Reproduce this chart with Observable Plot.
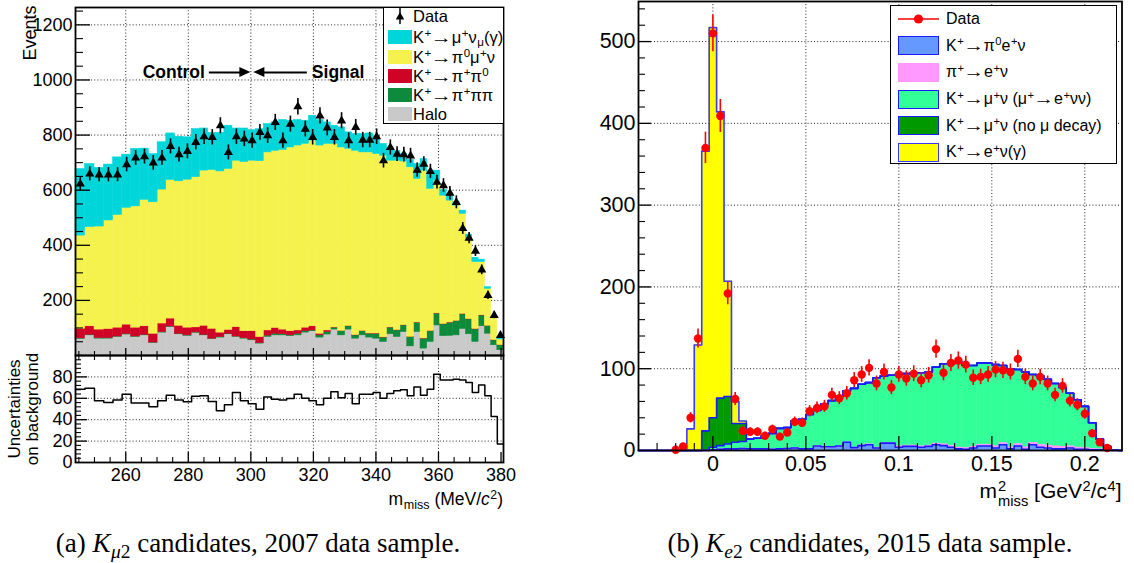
<!DOCTYPE html>
<html>
<head>
<meta charset="utf-8">
<script src="https://cdn.jsdelivr.net/npm/d3@7"></script>
<script src="https://cdn.jsdelivr.net/npm/@observablehq/plot@0.6"></script>
<style>
  html,body{margin:0;padding:0;background:#fff;}
  #wrap{position:relative;width:1134px;height:563px;overflow:hidden;background:#fff;font-family:"Liberation Sans",Arial,Helvetica,sans-serif;color:#000;}
  .abs{position:absolute;white-space:nowrap;}
  .sup{font-size:0.7em;position:relative;top:-0.48em;margin-left:0.5px;}
  .sub{font-size:0.7em;position:relative;top:0.3em;margin-left:0.5px;}
  .ar{display:inline-block;transform:scaleX(1.3);margin:0 2px;}
  .leg{position:absolute;background:#fff;border:1.5px solid #000;box-sizing:border-box;}
  .entry{position:absolute;white-space:nowrap;}
  .sw{position:absolute;box-sizing:border-box;}
  .cap{position:absolute;font-family:"Liberation Serif","Times New Roman",serif;font-size:27px;line-height:27px;text-align:center;white-space:nowrap;}
</style>
</head>
<body>
<div id="wrap"></div>
<script>
// ================= (a) K_mu2 candidates, 2007 data sample =================
// bin edges in m_miss (MeV/c^2) — bins are uniform in m_miss^2
const kmu2BinEdges = [243.93,246.98,250.00,252.98,255.93,258.84,261.73,264.58,267.40,270.19,272.95,275.68,278.39,281.07,283.73,286.36,288.97,291.55,294.11,296.65,299.17,301.66,304.14,306.59,309.03,311.45,313.85,316.23,318.59,320.94,323.26,325.58,327.87,330.15,332.42,334.66,336.90,339.12,341.32,343.51,345.69,347.85,350.00,352.14,354.26,356.37,358.47,360.56,362.63,364.69,366.74,368.78,370.81,372.83,374.83,376.83,378.81,380.79];
const kmu2Data = [623,659,656,656,656,693,717,722,699,717,759,729,741,774,794,792,834,737,794,786,780,810,798,846,780,840,903,822,792,870,826,792,852,780,828,782,782,794,707,755,731,729,725,673,695,668,629,617,589,556,461,426,379,311,218,146,73];
const kmu2Halo = [60,73,61,61,67,76,67,73,45,83,103,77,71,82,73,59,65,77,67,61,55,43,67,73,73,70,73,83,88,65,76,94,73,94,61,73,65,61,49,77,67,85,33,85,25,49,109,70,71,73,96,77,49,106,79,37,19];
const kmu2PiPiPi = [2,2,2,2,2,2,2,2,2,2,2,2,2,2,2,2,2,2,2,2,3,2,5,6,4,3,6,5,3,8,9,7,15,12,12,15,14,18,16,24,24,24,34,34,36,39,43,43,48,52,53,54,46,39,28,18,18];
const kmu2PiPi0 = [35,31,31,33,32,34,32,31,32,31,29,29,28,18,33,36,16,14,34,25,30,22,19,21,17,15,12,13,15,6,6,1,1,1,1,1,1,1,1,1,1,1,1,1,1,1,1,1,1,1,2,1,1,1,1,0.5,0.5];
const kmu2Pi0MuNu = [338,360,374,394,409,424,440,459,477,486,503,524,537,545,563,576,585,584,604,614,619,638,646,643,652,667,671,667,674,683,677,666,666,643,669,648,657,651,659,605,615,594,615,521,609,516,482,466,442,418,363,292,243,193,134,84.5,20.5];
const kmu2MuNu = [242,229,213,203,209,193,209,186,175,172,169,162,154,175,153,135,140,157,117,122,111,117,103,103,109,97,93,84,90,93,78,66,73,60,61,67,69,61,43,48,36,27,27,54,42,66,36,21,18,12,12,15,16,9,6,0,3];
const kmu2Uncertainty = [68.5,69.5,57.6,56,58.3,63.8,55.5,55.5,52,57.6,62.9,58.3,56.7,62,62.3,57,48.3,53.9,65.4,57.6,55,49.8,61.3,59.2,58.3,59.7,63.8,60,57.6,53.9,60,66.2,60.6,64.4,55,63.8,63.8,65.4,60,64.4,67,68,62.3,70.6,62.9,68.5,82.5,77.2,77,77.9,77,74.7,65.4,72.5,62.3,43,17.2];
const kmu2YTicks = [200,400,600,800,1000,1200];
const kmu2UncYTicks = [0,20,40,60,80];
const kmu2XTicks = [260,280,300,320,340,360,380];
const kmu2Boundary = 300;
const kmu2Keys = ["halo","pipipi","pipi0","pi0munu","munu"];
const kmu2Colors = ["#c9c9c9","#0d8a3c","#cf0325","#f5f24e","#00d6da"];
const AR = "<span class='ar'>→</span>";
const kmu2LegendLabels = ["Data",`K<span class='sup'>+</span>${AR}μ<span class='sup'>+</span>ν<span class='sub'>μ</span>(γ)`,`K<span class='sup'>+</span>${AR}π<span class='sup'>0</span>μ<span class='sup'>+</span>ν`,`K<span class='sup'>+</span>${AR}π<span class='sup'>+</span>π<span class='sup'>0</span>`,`K<span class='sup'>+</span>${AR}π<span class='sup'>+</span>ππ`,"Halo"];
const kmu2LegendColors = [null,"#00d6da","#f5f24e","#cf0325","#0d8a3c","#c9c9c9"];

// ================= (b) K_e2 candidates, 2015 data sample =================
const ke2BinCenters = [-0.020,-0.016,-0.012,-0.008,-0.004,0.000,0.004,0.008,0.012,0.016,0.020,0.024,0.028,0.032,0.036,0.040,0.044,0.048,0.052,0.056,0.060,0.064,0.068,0.072,0.076,0.080,0.084,0.088,0.092,0.096,0.100,0.104,0.108,0.112,0.116,0.120,0.124,0.128,0.132,0.136,0.140,0.144,0.148,0.152,0.156,0.160,0.164,0.168,0.172,0.176,0.180,0.184,0.188,0.192,0.196,0.200,0.204,0.208,0.212,0.216];
const ke2BinHalfWidth = 0.002;
const ke2Data = [1,5,40,137,370,510,409,192,63,24,23,23,18,26,17,22,35,34,48,52,54,68,64,70,86,93,101,82,96,77,93,88,94,86,92,124,95,107,110,105,89,90,93,99,98,96,112,90,82,90,82,68,79,61,56,45,21,10,3,null];
const ke2Pi0ENu = [0,0,0,0,0,1,1.5,2,2,2.5,2,2,2,1.5,2,2.5,3,2,2,5.5,4.5,4.5,5.5,10,3.5,6,7,3,9,9,4,5,5,4,5,7,6,4,2,1.5,3,5.5,5.5,3,7,2,5.5,1.5,7,4,3,2,2,3,1.5,1.5,1,1,0.5,0];
const ke2PiENu = [0,0,0,0,0,0,0,0,0,0,0,0,0,0,0,0,0,0,0,0,0,0,0,0,0,0.5,0.5,0.5,0.5,0.5,1,1,1,1,1,1.5,1.5,1.5,1.5,1.5,1.5,1.5,1.5,2,2,2,2.5,2.5,2.5,3,3,3,2.5,2,2,1.5,1,0.5,0,0];
const ke2MuNuMuDecay = [0,0,0,0,0.5,3,4.5,6,8,8.5,12,13,16,19.5,25,25.5,33,36,42,43.5,52.5,56.5,60.5,63,72.5,74.5,75.5,85.5,81.5,82.5,88,88,89,90,90,93.5,98.5,100.5,104.5,101,99.5,100,100,100,95,96,91,92,83.5,84,81,77,72.5,65,58.5,51,32,12.5,4.5,1];
const ke2MuNuNoDecay = [0,0,0,0,23.5,36,58,58,23,22,0,0,0,0,0,0,0,0,0,0,0,0,0,0,0,0,0,0,0,0,0,0,0,0,0,0,0,0,0,0,0,0,0,0,0,0,0,0,0,0,0,0,0,0,0,0,0,0,0,0];
const ke2ENu = [0,0,26.5,129,342,477,350,141,27,3,0,0,0,0,0,0,0,0,0,0,0,0,0,0,0,0,0,0,0,0,0,0,0,0,0,0,0,0,0,0,0,0,0,0,0,0,0,0,0,0,0,0,0,0,0,0,0,0,0,0];
const ke2YTicks = [0,100,200,300,400,500];
const ke2XTicks = [0,0.05,0.1,0.15,0.2];
const ke2XTickLabels = ["0","0.05","0.1","0.15","0.2"];
const ke2Keys = ["pi0enu","pienu","munudecay","munu","enu"];
const ke2Colors = ["#6699ff","#ff99ff","#33ff99","#009900","#ffff00"];
const ke2OutlineColors = ["#1a1aff","#ff99ff","#1a1aff","#1a1aff","#3a3aff"];
const ke2LegendLabels = ["Data",`K<span class='sup'>+</span>${AR}π<span class='sup'>0</span>e<span class='sup'>+</span>ν`,`π<span class='sup'>+</span>${AR}e<span class='sup'>+</span>ν`,`K<span class='sup'>+</span>${AR}μ<span class='sup'>+</span>ν (μ<span class='sup'>+</span>${AR}e<span class='sup'>+</span>νν)`,`K<span class='sup'>+</span>${AR}μ<span class='sup'>+</span>ν (no μ decay)`,`K<span class='sup'>+</span>${AR}e<span class='sup'>+</span>ν(γ)`];
const ke2LegendColors = [null,"#6699ff","#ff99ff","#33ff99","#009900","#ffff00"];

// ================= helpers =================
const FONT = '"Liberation Sans", Arial, Helvetica, sans-serif';
const wrap = document.getElementById("wrap");
function place(node, left, top) { node.style.position = "absolute"; node.style.left = left + "px"; node.style.top = top + "px"; wrap.appendChild(node); }
function stack(lo, hi, series) {
  const n = lo.length, base = new Array(n).fill(0), rects = [], levels = [];
  for (const s of series) {
    const top = [];
    for (let i = 0; i < n; i++) {
      const v = s.values[i] || 0;
      if (v > 0) rects.push({x1: lo[i], x2: hi[i], y1: base[i], y2: base[i] + v, key: s.key});
      base[i] += v; top.push(base[i]);
    }
    levels.push(top);
  }
  return {rects, levels};
}
function steps(lo, hi, vals, x0, x1) {
  const pts = [];
  if (x0 !== undefined) pts.push({x: x0, y: 0}, {x: lo[0], y: 0});
  for (let i = 0; i < lo.length; i++) pts.push({x: lo[i], y: vals[i]}, {x: hi[i], y: vals[i]});
  if (x1 !== undefined) pts.push({x: hi[hi.length - 1], y: 0}, {x: x1, y: 0});
  return pts;
}
const GRID = {stroke: "#222", strokeWidth: 1, strokeDasharray: "1,2.2"};
function yTicks(vals, xEdge, len, sw) { return Plot.ruleY(vals, {y: d => d, x1: () => xEdge, x2: () => xEdge + len, stroke: "#000", strokeWidth: sw}); }
function xTicks(vals, yEdge, len, sw) { return Plot.ruleX(vals, {x: d => d, y1: () => yEdge, y2: () => yEdge + len, stroke: "#000", strokeWidth: sw}); }
function styleFor(size) { return {fontFamily: FONT, fontSize: size + "px", background: "transparent", overflow: "visible", color: "#000"}; }
const plain = d => String(d);

// ================= panel (a): main =================
const aLo = kmu2BinEdges.slice(0, -1), aHi = kmu2BinEdges.slice(1);
const aMid = aLo.map((l, i) => (l + aHi[i]) / 2);
const aXDom = [kmu2BinEdges[0], kmu2BinEdges[kmu2BinEdges.length - 1]];
const aW = 510, aH = 356, aML = 75, aMR = 7, aMT = 7, aMB = 1, aYMax = 1263;
const aPxX = (aW - aML - aMR) / (aXDom[1] - aXDom[0]);
const aPxY = (aH - aMT - aMB) / aYMax;
const aSeries = [kmu2Halo, kmu2PiPiPi, kmu2PiPi0, kmu2Pi0MuNu, kmu2MuNu].map((v, i) => ({key: kmu2Keys[i], values: v}));
const aStack = stack(aLo, aHi, aSeries);
const aPts = aMid.map((x, i) => ({x, y: kmu2Data[i], lo: kmu2Data[i] - Math.sqrt(kmu2Data[i]), hi: kmu2Data[i] + Math.sqrt(kmu2Data[i])}));
const aMinorY = d3.range(50, 1260, 50).filter(v => v % 200 !== 0);
const aMinorX = d3.range(245, 381, 5).filter(v => v % 20 !== 0);
const annY = 1027;
const hw = 5 / aPxY, hl = 11 / aPxX, gap = 1 / aPxX;
const tipR = kmu2Boundary, tipL = kmu2Boundary + 3 / aPxX;
const heads = [
  {g: "r", x: tipR - hl, y1: annY - hw, y2: annY + hw}, {g: "r", x: tipR, y1: annY, y2: annY},
  {g: "l", x: tipL, y1: annY, y2: annY}, {g: "l", x: tipL + hl, y1: annY - hw, y2: annY + hw}
];
const shafts = [
  {x1: tipR - 42 / aPxX, x2: tipR - hl + gap}, {x1: tipL + hl - gap, x2: tipL + 53 / aPxX}
];
const plotA = Plot.plot({
  width: aW, height: aH, marginLeft: aML, marginRight: aMR, marginTop: aMT, marginBottom: aMB,
  x: {domain: aXDom, axis: null},
  y: {domain: [0, aYMax], axis: null},
  color: {domain: kmu2Keys, range: kmu2Colors},
  style: styleFor(18),
  marks: [
    Plot.ruleX(kmu2XTicks.slice(0, -1), GRID),
    Plot.ruleY(kmu2YTicks, GRID),
    Plot.rect(aStack.rects, {x1: "x1", x2: "x2", y1: "y1", y2: "y2", fill: "key", stroke: "key", strokeWidth: 0.5, inset: 0}),
    Plot.ruleX(aPts, {x: "x", y1: "lo", y2: "hi", stroke: "#000", strokeWidth: 1.6}),
    Plot.dot(aPts, {x: "x", y: "y", symbol: "triangle", r: 3.4, fill: "#000", stroke: "none"}),
    Plot.link(shafts, {x1: "x1", x2: "x2", y1: () => annY, y2: () => annY, stroke: "#000", strokeWidth: 2}),
    Plot.areaY(heads, {x: "x", y1: "y1", y2: "y2", z: "g", fill: "#000"}),
    Plot.text(["Control"], {x: () => tipR - 46 / aPxX, y: () => annY, textAnchor: "end", fontWeight: "bold", fontSize: 17.5}),
    Plot.text(["Signal"], {x: () => tipL + 58 / aPxX, y: () => annY, textAnchor: "start", fontWeight: "bold", fontSize: 17.5}),
    yTicks(kmu2YTicks, aXDom[0], 15 / aPxX, 1.3),
    yTicks(aMinorY, aXDom[0], 8 / aPxX, 1.1),
    xTicks(kmu2XTicks, 0, 7 / aPxY, 1.3),
    xTicks(aMinorX, 0, 4 / aPxY, 1.1),
    Plot.frame({stroke: "#000", strokeWidth: 1.8}),
    Plot.axisY(kmu2YTicks, {tickSize: 0, tickPadding: 3, fontSize: 18, label: null, tickFormat: plain}),
    Plot.text(["Events"], {frameAnchor: "top-left", dx: -52, dy: -2, rotate: -90, textAnchor: "end", fontSize: 18})
  ]
});
place(plotA, 0, 0);

// ================= panel (a): lower (uncertainties) =================
const bW = 510, bH = 208, bML = 75, bMR = 7, bMT = 0, bMB = 101;
const bPxY = (bH - bMT - bMB) / 100;
const bMinorY = d3.range(4, 100, 4).filter(v => v % 20 !== 0);
const plotB = Plot.plot({
  width: bW, height: bH, marginLeft: bML, marginRight: bMR, marginTop: bMT, marginBottom: bMB,
  x: {domain: aXDom, axis: null},
  y: {domain: [0, 100], axis: null},
  style: styleFor(18),
  marks: [
    Plot.ruleX(kmu2XTicks.slice(0, -1), GRID),
    Plot.ruleY(kmu2UncYTicks.slice(1), GRID),
    Plot.line(steps(aLo, aHi, kmu2Uncertainty), {x: "x", y: "y", stroke: "#000", strokeWidth: 1.5}),
    yTicks(kmu2UncYTicks.slice(1), aXDom[0], 12 / aPxX, 1.3),
    yTicks(bMinorY, aXDom[0], 6 / aPxX, 1.1),
    xTicks(kmu2XTicks, 0, 10 / bPxY, 1.3),
    xTicks(aMinorX, 0, 5 / bPxY, 1.1),
    xTicks(kmu2XTicks.concat(aMinorX), 100, -5 / bPxY, 1.1),
    Plot.frame({stroke: "#000", strokeWidth: 1.8}),
    Plot.axisY(kmu2UncYTicks, {tickSize: 0, tickPadding: 3, fontSize: 18, label: null, tickFormat: plain}),
    Plot.axisX(kmu2XTicks, {tickSize: 0, tickPadding: 6, fontSize: 18, label: null, tickFormat: plain}),
    Plot.text(["Uncertainties\non background"], {frameAnchor: "left", dx: -52, rotate: -90, textAnchor: "middle", lineHeight: 1.05, fontSize: 17})
  ]
});
place(plotB, 0, 355);

// ================= panel (b) =================
const cLo = ke2BinCenters.map(c => c - ke2BinHalfWidth), cHi = ke2BinCenters.map(c => c + ke2BinHalfWidth);
const cXDom = [-0.04, 0.22], cYMax = 549;
const cW = 574, cH = 520, cML = 78, cMR = 12.5, cMT = 1, cMB = 70;
const cPxX = (cW - cML - cMR) / (cXDom[1] - cXDom[0]);
const cPxY = (cH - cMT - cMB) / cYMax;
const cSeries = [ke2Pi0ENu, ke2PiENu, ke2MuNuMuDecay, ke2MuNuNoDecay, ke2ENu].map((v, i) => ({key: ke2Keys[i], values: v}));
const cStack = stack(cLo, cHi, cSeries);
const cPts = ke2BinCenters.map((x, i) => ({x, y: ke2Data[i]})).filter(d => d.y != null)
  .map(d => ({...d, lo: d.y - Math.sqrt(d.y), hi: d.y + Math.sqrt(d.y)}));
const cMinorX = d3.range(-3, 22).filter(k => k % 5 !== 0).map(k => k / 100);
const cMinorY = d3.range(20, 550, 20).filter(v => v % 100 !== 0);
const outlineMarks = [];
for (let k = cStack.levels.length - 1; k >= 0; k--) {
  outlineMarks.push(Plot.line(steps(cLo, cHi, cStack.levels[k], cXDom[0], cXDom[1]), {x: "x", y: "y", stroke: ke2OutlineColors[k], strokeWidth: 1.6}));
}
const plotC = Plot.plot({
  width: cW, height: cH, marginLeft: cML, marginRight: cMR, marginTop: cMT, marginBottom: cMB,
  x: {domain: cXDom, axis: null},
  y: {domain: [0, cYMax], axis: null},
  color: {domain: ke2Keys, range: ke2Colors},
  style: styleFor(21.5),
  marks: [
    Plot.ruleX(ke2XTicks, GRID),
    Plot.ruleY(ke2YTicks.slice(1), GRID),
    Plot.rect(cStack.rects, {x1: "x1", x2: "x2", y1: "y1", y2: "y2", fill: "key", stroke: "key", strokeWidth: 0.5, inset: 0}),
    ...outlineMarks,
    Plot.ruleX(cPts, {x: "x", y1: "lo", y2: "hi", stroke: "#ff0000", strokeWidth: 1.6}),
    Plot.dot(cPts, {x: "x", y: "y", r: 4.2, fill: "#ff0000", stroke: "none"}),
    yTicks(ke2YTicks.slice(1), cXDom[0], 13 / cPxX, 1.3),
    yTicks(cMinorY, cXDom[0], 7 / cPxX, 1.1),
    xTicks(ke2XTicks, 0, 14 / cPxY, 1.3),
    xTicks(cMinorX, 0, 7 / cPxY, 1.1),
    Plot.frame({stroke: "#000", strokeWidth: 1.8}),
    Plot.axisY(ke2YTicks, {tickSize: 0, tickPadding: 3, fontSize: 21.5, label: null, tickFormat: plain}),
    Plot.axisX(ke2XTicks, {tickSize: 0, tickPadding: 5.5, fontSize: 21.5, label: null, tickFormat: d => ke2XTickLabels[ke2XTicks.indexOf(d)]})
  ]
});
place(plotC, 560, 0);

// ================= legends =================
function legend(left, top, w, h, labels, colors, centers, sw, textLeft, fontSize, dataMarker, swatchBorder) {
  const box = document.createElement("div");
  box.className = "leg";
  box.style.cssText += `left:${left}px;top:${top}px;width:${w}px;height:${h}px;`;
  labels.forEach((lab, i) => {
    const cy = centers[i];
    if (i === 0) {
      const m = document.createElement("div");
      m.className = "sw";
      m.style.cssText += `left:${sw.x}px;top:${cy - 9}px;width:${sw.w}px;height:18px;`;
      m.innerHTML = dataMarker;
      box.appendChild(m);
    } else {
      const s = document.createElement("div");
      s.className = "sw";
      const bc = swatchBorder ? swatchBorder[i] : colors[i];
      s.style.cssText += `left:${sw.x}px;top:${cy - sw.h / 2}px;width:${sw.w}px;height:${sw.h}px;background:${colors[i]};border:1.5px solid ${bc};`;
      box.appendChild(s);
    }
    const t = document.createElement("div");
    t.className = "entry";
    t.style.cssText += `left:${textLeft}px;top:${cy - 10}px;height:20px;line-height:20px;font-size:${fontSize}px;`;
    t.innerHTML = lab;
    box.appendChild(t);
  });
  wrap.appendChild(box);
}
legend(383, 7, 121, 117, kmu2LegendLabels, kmu2LegendColors, [8, 29, 49, 68, 87, 106], {x: 4, w: 24, h: 14}, 29, 16.5,
  `<svg width="24" height="18"><line x1="12" y1="1" x2="12" y2="17" stroke="#000" stroke-width="1.5"/><path d="M12,5 L16.2,12.5 L7.8,12.5 Z" fill="#000"/></svg>`, null);
legend(890, 5, 227, 159, ke2LegendLabels, ke2LegendColors, [12.5, 39.5, 66, 93, 119.5, 146], {x: 7, w: 41, h: 19}, 55, 16,
  `<svg width="41" height="18"><line x1="0" y1="9" x2="41" y2="9" stroke="#ff0000" stroke-width="1.5"/><circle cx="20.5" cy="9" r="4.6" fill="#ff0000"/></svg>`,
  [null, "#1a1aff", "#ff99ff", "#1a1aff", "#1a1aff", "#3a3aff"]);

// ================= axis titles & captions =================
function html(str, css) { const d = document.createElement("div"); d.className = "abs"; d.style.cssText += css; d.innerHTML = str; wrap.appendChild(d); return d; }
html("m<span class='sub' style='font-size:0.72em;top:0.35em'>miss</span> (MeV/<i>c</i><span class='sup'>2</span>)",
  "right:631px;top:491px;font-size:17.5px;line-height:17.5px;");
html("m<span style='display:inline-block;vertical-align:-8px;line-height:1;font-size:0.7em;margin-left:1px;'><span style='display:block;height:15px;'>2</span><span style='display:block;height:15px;'>miss</span></span> [GeV<span class='sup'>2</span>/c<span class='sup'>4</span>]",
  "right:12.5px;top:479px;font-size:21px;line-height:21px;");
const capA = html("(a) <i>K</i><span class='sub' style='font-size:0.72em;top:0.3em'><i>μ</i>2</span> candidates, 2007 data sample.", "");
capA.className = "cap"; capA.style.left = "0px"; capA.style.width = "516px"; capA.style.top = "530px";
const capB = html("(b) <i>K</i><span class='sub' style='font-size:0.72em;top:0.3em'><i>e</i>2</span> candidates, 2015 data sample.", "");
capB.className = "cap"; capB.style.left = "612px"; capB.style.width = "516px"; capB.style.top = "530px";
</script>
</body>
</html>
